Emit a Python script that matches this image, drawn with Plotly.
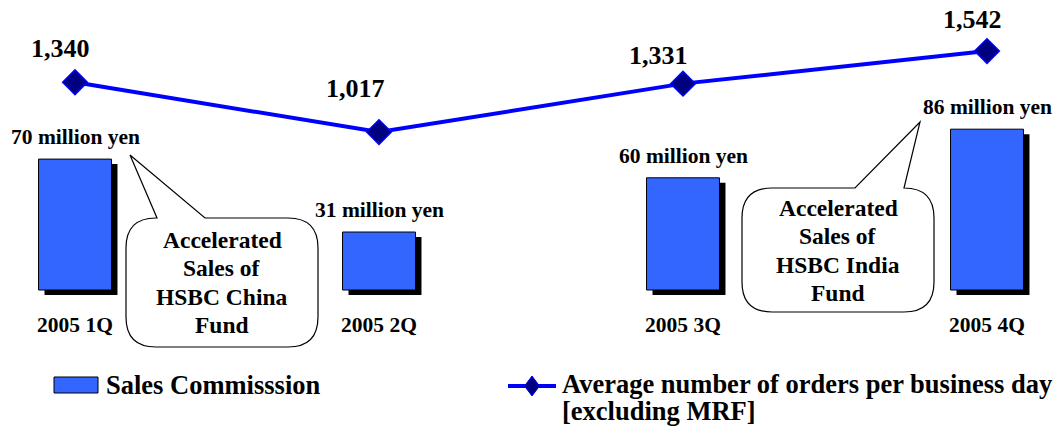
import plotly.graph_objects as go

# ---- data ----
quarters = ["2005 1Q", "2005 2Q", "2005 3Q", "2005 4Q"]
commission = [70, 31, 60, 86]            # million yen
orders = [1340, 1017, 1331, 1542]        # average orders per business day
bar_name = "Sales Commisssion"
line_name = ["Average number of orders per business day", "[excluding MRF]"]
callout_china = "Accelerated<br>Sales of<br>HSBC China<br>Fund"
callout_india = "Accelerated<br>Sales of<br>HSBC India<br>Fund"

# ---- canvas geometry (pixels) ----
W, H = 1058, 429
FONT = "Liberation Serif, Times New Roman, serif"
BLUE_BAR = "#3366FF"
LINE_BLUE = "#0000FF"
NAVY = "#000080"

x0_px, step_px = 75, 304            # first category centre, category spacing
bar_base_px, bar_scale = 290, 1.87  # pixel row of zero, px per million yen
line_base_px, line_scale = 289, 0.1543
bar_w = 0.24
shadow_dx, shadow_dy = 6 / step_px, 5 / bar_scale

xs = list(range(len(quarters)))


def font(size):
    return dict(family=FONT, size=size, color="black", weight="bold")


def px(x, y):
    """pixel -> paper coordinates"""
    return x / W, 1 - y / H


fig = go.Figure()

# drop shadow behind the commission bars
fig.add_trace(go.Bar(
    x=xs, y=commission, base=[-shadow_dy] * len(xs),
    width=bar_w, offset=-bar_w / 2 + shadow_dx,
    marker=dict(color="black", line=dict(width=0)),
    showlegend=False, hoverinfo="skip", yaxis="y",
))
# commission bars
fig.add_trace(go.Bar(
    x=xs, y=commission, width=bar_w, offset=-bar_w / 2,
    marker=dict(color=BLUE_BAR, line=dict(color="black", width=1)),
    name=bar_name, showlegend=False, yaxis="y",
))
# average orders line
fig.add_trace(go.Scatter(
    x=xs, y=orders, mode="lines+markers", yaxis="y2",
    line=dict(color=LINE_BLUE, width=4),
    marker=dict(symbol="diamond", size=19, color=NAVY,
                line=dict(color=LINE_BLUE, width=1.5)),
    name=" ".join(line_name), showlegend=False,
))

annotations = []

# commission value labels above bars
for x, v in zip(xs, commission):
    annotations.append(dict(
        x=x, y=v, xref="x", yref="y", yshift=22, showarrow=False,
        text=f"{v} million yen", font=font(21.5),
        xanchor="center", yanchor="middle"))

# order count labels above markers
label_shift = [(-15, 34), (-24, 44), (-25, 28), (-15, 32)]
for x, v, (dx, dy) in zip(xs, orders, label_shift):
    annotations.append(dict(
        x=x, y=v, xref="x", yref="y2", xshift=dx, yshift=dy, showarrow=False,
        text=f"{v:,}", font=font(26),
        xanchor="center", yanchor="middle"))

# category labels under bars
for x, q in zip(xs, quarters):
    annotations.append(dict(
        x=x, y=0, xref="x", yref="y", yshift=-35, showarrow=False,
        text=q, font=font(21.5),
        xanchor="center", yanchor="middle"))


def callout_path(x0, y0, x1, y1, r, tail_a, tip, tail_b):
    """rounded rectangle with a pointer rising from its top edge (pixel input)"""
    def P(x, y):
        a, b = px(x, y)
        return f"{a:.5f},{b:.5f}"

    return " ".join([
        f"M{P(x0 + r, y0)}",
        f"L{P(tail_a, y0)}",
        f"L{P(*tip)}",
        f"L{P(tail_b, y0)}",
        f"L{P(x1 - r, y0)}",
        f"Q{P(x1, y0)} {P(x1, y0 + r)}",
        f"L{P(x1, y1 - r)}",
        f"Q{P(x1, y1)} {P(x1 - r, y1)}",
        f"L{P(x0 + r, y1)}",
        f"Q{P(x0, y1)} {P(x0, y1 - r)}",
        f"L{P(x0, y0 + r)}",
        f"Q{P(x0, y0)} {P(x0 + r, y0)}",
        "Z",
    ])


shapes = [
    dict(type="path", xref="paper", yref="paper",
         path=callout_path(126, 218, 318, 347, 30, 157, (130, 155), 205),
         fillcolor="white", line=dict(color="black", width=1.2), layer="above"),
    dict(type="path", xref="paper", yref="paper",
         path=callout_path(742, 188, 934, 312, 30, 855, (920, 122), 904),
         fillcolor="white", line=dict(color="black", width=1.2), layer="above"),
]

# callout texts, one annotation per line for even spacing
for text, cx_px, first_px in [(callout_china, 222, 240), (callout_india, 838, 208)]:
    for i, line in enumerate(text.split("<br>")):
        cx, cy = px(cx_px, first_px + 28.3 * i)
        annotations.append(dict(x=cx, y=cy, xref="paper", yref="paper", showarrow=False,
                                text=line, font=font(23.5),
                                xanchor="center", yanchor="middle"))

# ---- legend keys ----
a0, b0 = px(54, 377)
a1, b1 = px(98, 393)
shapes.append(dict(type="rect", xref="paper", yref="paper", x0=a0, y0=b1, x1=a1, y1=b0,
                   fillcolor=BLUE_BAR, line=dict(color="black", width=1)))
lx, ly = px(104, 385)
annotations.append(dict(x=lx, y=ly, xref="paper", yref="paper", showarrow=False,
                        text=bar_name, font=font(26.5),
                        xanchor="left", yanchor="middle"))

a0, b0 = px(508, 386)
a1, _ = px(556, 386)
shapes.append(dict(type="line", xref="paper", yref="paper", x0=a0, y0=b0, x1=a1, y1=b0,
                   line=dict(color=LINE_BLUE, width=4)))
dcx, dcy, dr = 532, 386, 10
d = [px(dcx, dcy - dr), px(dcx + dr * 0.75, dcy), px(dcx, dcy + dr), px(dcx - dr * 0.75, dcy)]
shapes.append(dict(type="path", xref="paper", yref="paper",
                   path="M" + " L".join(f"{p[0]:.5f},{p[1]:.5f}" for p in d) + " Z",
                   fillcolor=NAVY, line=dict(color=LINE_BLUE, width=1)))
for i, line in enumerate(line_name):
    lx, ly = px(560, 384 + 27 * i)
    annotations.append(dict(x=lx, y=ly, xref="paper", yref="paper", showarrow=False,
                            text=line, font=font(26.5),
                            xanchor="left", yanchor="middle"))

fig.update_layout(
    width=W, height=H,
    margin=dict(l=0, r=0, t=0, b=0),
    paper_bgcolor="white", plot_bgcolor="white",
    barmode="overlay", showlegend=False,
    xaxis=dict(range=[-x0_px / step_px, (W - x0_px) / step_px],
               visible=False, fixedrange=True),
    yaxis=dict(range=[-(H - bar_base_px) / bar_scale, bar_base_px / bar_scale],
               visible=False, fixedrange=True),
    yaxis2=dict(range=[-(H - line_base_px) / line_scale, line_base_px / line_scale],
                overlaying="y", visible=False, fixedrange=True),
    annotations=annotations,
    shapes=shapes,
)

fig.write_html("out.html")
